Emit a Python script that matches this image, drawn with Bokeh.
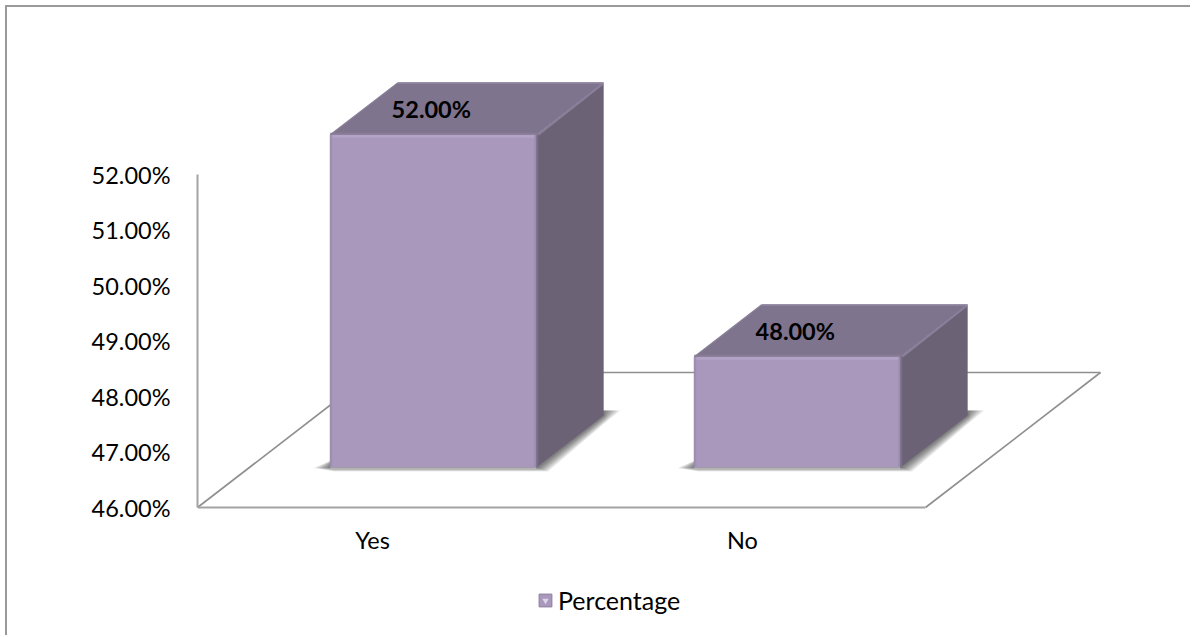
from bokeh.plotting import figure
from bokeh.embed import file_html
from bokeh.resources import INLINE
from bokeh.models import Range1d, FixedTicker, Legend, LegendItem, NumeralTickFormatter
from bokeh.core.properties import value

categories = ["Yes", "No"]
percentages = [52.0, 48.0]
tick_values = [46, 47, 48, 49, 50, 51, 52]
series_name = "Percentage"

FONT = "Lato"
OX, OY = 7, 7                  # page position of the figure
W, H = 1192 - OX, 637 - OY
LEFT, RIGHT, TOP, FLOOR = 197 - OX, 1110 - OX, 70 - OY, 507 - OY
PX_X, PX_Y = 364.0, 55.45      # pixels per category / per percent point
BASE = 46.0
DEPTH_X, DEPTH_Y = 175 / PX_X, 135 / PX_Y
D0, D1 = 0.296, 0.681
HALF = 103 / PX_X
SHIFT = 2 / PX_X

FRONT, TOPC, SIDE = "#A998BC", "#7F748E", "#6C6276"

p = figure(width=W, height=H, output_backend="svg", toolbar_location=None,
           x_range=Range1d(-0.5, -0.5 + (RIGHT - LEFT) / PX_X),
           y_range=Range1d(BASE - (H - FLOOR) / PX_Y, BASE + (FLOOR - TOP) / PX_Y),
           min_border_left=LEFT, min_border_right=W - RIGHT,
           min_border_top=TOP, min_border_bottom=0,
           background_fill_color="white", border_fill_color="white")
# the chart's frame shows only at its top and left edges
p.styles = {"position": "absolute", "left": f"{OX}px", "top": f"{OY}px",
            "box-shadow": "-2px -2px 0 #9a9a9a"}
p.outline_line_color = None
p.grid.visible = False

# axes
yax = p.yaxis[0]
yax.ticker = FixedTicker(ticks=tick_values)
yax.formatter = NumeralTickFormatter(format="0")
yax.major_label_overrides = {v: f"{v:.2f}%" for v in tick_values}
yax.bounds = (tick_values[0], tick_values[-1])
yax.axis_line_color = "#a3a3a3"
yax.axis_line_width = 2
yax.major_tick_line_color = None
yax.minor_tick_line_color = None
yax.major_label_standoff = 21
yax.major_label_text_font = FONT
yax.major_label_text_font_size = "23.5px"
yax.major_label_text_color = "#000000"

xax = p.xaxis[0]
label_pos = [i - (7 - 6 * i) / PX_X for i in range(len(categories))]
xax.fixed_location = BASE
xax.ticker = FixedTicker(ticks=label_pos)
xax.major_label_overrides = {pos: c for pos, c in zip(label_pos, categories)}
xax.bounds = (-0.5, len(categories) - 0.5)
xax.axis_line_color = "#a3a3a3"
xax.axis_line_width = 2
xax.major_tick_line_color = None
xax.minor_tick_line_color = None
xax.major_label_standoff = 12
xax.major_label_text_font = FONT
xax.major_label_text_font_size = "23.5px"
xax.major_label_text_color = "#000000"

n = len(categories)
# floor: side edges and back edge
p.line([-0.5, -0.5 + DEPTH_X], [BASE, BASE + DEPTH_Y], line_color="#8f8f8f", line_width=1.6)
p.line([-0.5 + DEPTH_X, n - 0.5 + DEPTH_X], [BASE + DEPTH_Y] * 2, line_color="#8f8f8f", line_width=1.6)
p.line([n - 0.5, n - 0.5 + DEPTH_X], [BASE, BASE + DEPTH_Y], line_color="#8f8f8f", line_width=1.6)

legend_r = None
LAYERS = 12
for i, v in enumerate(percentages):
    x0 = i + D0 * DEPTH_X - HALF + SHIFT
    x1 = i + D0 * DEPTH_X + HALF + SHIFT
    dx, dy = (D1 - D0) * DEPTH_X, (D1 - D0) * DEPTH_Y
    yb = BASE + D0 * DEPTH_Y
    yt = v + D0 * DEPTH_Y
    ux, uy = 1 / PX_X, 1 / PX_Y

    # soft floor shadow, built from stacked translucent layers
    for k in range(LAYERS):
        t = 1 - k / (LAYERS - 1)
        p.patch([x0 - (1 + 16 * t) * ux, x0 + 5 * ux, x1 + dx, x1 + dx + (1 + 16 * t) * ux,
                 x1 + dx + (1 + t) * ux, x1 + (2 + 10 * t) * ux, x0 + 4 * ux],
                [yb - 0.5 * uy, yb + 9 * uy, yb + dy + 5 * uy, yb + dy + 5 * uy,
                 yb + dy - (0 + 7 * t) * uy, yb - (0 + 4 * t) * uy, yb - (0 + 4 * t) * uy],
                fill_color="#000000", fill_alpha=0.055, line_color=None)

    # top and side faces
    p.patch([x0, x1, x1 + dx, x0 + dx], [yt, yt, yt + dy, yt + dy], fill_color=TOPC, line_color=None)
    p.patch([x1, x1 + dx, x1 + dx, x1], [yb, yb + dy, yt + dy, yt], fill_color=SIDE, line_color=None)
    # front face
    r = p.quad(left=x0, right=x1, bottom=yb, top=yt, fill_color=FRONT, line_color="#8A7D9C", line_width=1)
    legend_r = legend_r or r

    # bevels
    p.line([x0, x1], [yt - 1.5 * uy] * 2, line_color="#B3A3C6", line_width=3)
    p.line([x0 + 1 * ux] * 2, [yb, yt], line_color="#9F90B3", line_width=2)
    p.line([x1 - 1 * ux] * 2, [yb, yt], line_color="#9C8EAF", line_width=2)
    p.line([x1 + 1 * ux] * 2, [yb, yt], line_color="#7A6F86", line_width=2)
    p.line([x0, x1], [yt + 1 * uy] * 2, line_color="#887C97", line_width=2)
    p.line([x1 + 2 * ux, x1 + dx - 1 * ux], [yt, yt + dy - 1 * uy], line_color="#8A7F9A", line_width=2)
    p.line([x0 + dx, x1 + dx], [yt + dy] * 2, line_color="#9A8FA8", line_width=1.5)
    p.line([x0, x0 + dx], [yt, yt + dy], line_color="#8A7F98", line_width=1.2)
    p.line([x0, x1], [yb - 1 * uy] * 2, line_color="#b5b5b5", line_width=2)

    # data label
    p.text(x=[i + D0 * DEPTH_X], y=[yt + dy / 2], text=[f"{v:.2f}%"],
           text_align="center", text_baseline="middle", text_font=value(FONT),
           text_font_style="bold", text_font_size="23.5px", text_color="#000000")

# the legend key's light inner triangle: drawn only in the legend
key_mark = p.scatter(x=[float("nan")], y=[float("nan")], marker="inverted_triangle", size=9,
                     fill_color="#DDD4E8", line_color=None)

legend = Legend(items=[LegendItem(label=series_name, renderers=[legend_r, key_mark])],
                location=(340, 22), orientation="horizontal",
                background_fill_alpha=0, border_line_color=None,
                label_text_font=FONT, label_text_font_size="25px", label_text_color="#000000",
                glyph_width=16, glyph_height=16, margin=0, padding=0, label_standoff=5)
p.add_layout(legend)

open("out.html", "w").write(file_html(p, INLINE))
